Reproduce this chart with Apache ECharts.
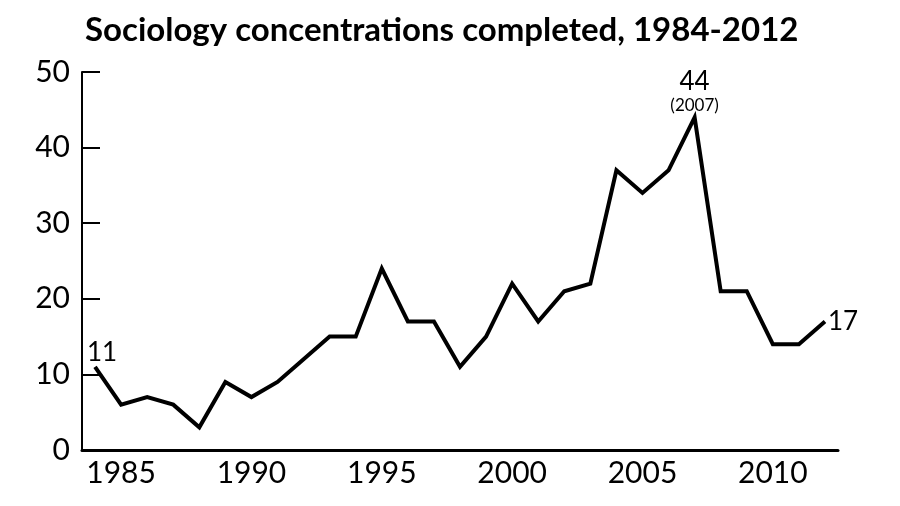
<!DOCTYPE html>
<html>
<head>
<meta charset="utf-8">
<script src="https://cdn.jsdelivr.net/npm/echarts@6/dist/echarts.min.js"></script>
<style>html,body{margin:0;padding:0;background:#fff;}#c{width:900px;height:506px;}</style>
</head>
<body>
<div id="c"></div>
<script>
var years = [1984,1985,1986,1987,1988,1989,1990,1991,1992,1993,1994,1995,1996,1997,1998,1999,2000,2001,2002,2003,2004,2005,2006,2007,2008,2009,2010,2011,2012];
var concentrations = [11,6,7,6,3,9,7,9,12,15,15,24,17,17,11,15,22,17,21,22,37,34,37,44,21,21,14,14,17];
var yTicks = [0,10,20,30,40,50];
var titleText = 'Sociology concentrations completed, 1984-2012';

var FONT = 'Lato';
var chart = echarts.init(document.getElementById('c'), null, {renderer: 'canvas'});

var seriesData = concentrations.map(function (v, i) {
  var item = {value: v};
  var y = years[i];
  if (y === 1984) {
    item.label = {show: true, position: 'top', distance: 1, offset: [7, 0], formatter: String(v), fontSize: 26, fontFamily: FONT, color: '#000'};
  } else if (y === 2007) {
    item.label = {show: true, position: 'top', distance: 2, formatter: '{a|' + v + '}\n{b|(' + y + ')}',
      rich: {a: {fontSize: 26, fontFamily: FONT, color: '#000', lineHeight: 29}, b: {fontSize: 17, fontFamily: FONT, color: '#000', lineHeight: 19}}};
  } else if (y === 2012) {
    item.label = {show: true, position: 'right', distance: 3, formatter: String(v), fontSize: 26, fontFamily: FONT, color: '#000'};
  }
  return item;
});

chart.setOption({
  animation: false,
  backgroundColor: '#fff',
  title: {
    text: titleText, left: 80, top: 9,
    textStyle: {fontFamily: FONT, fontWeight: 'bold', fontSize: 33, color: '#000'}
  },
  grid: {left: 82, right: 62, top: 72, bottom: 56, containLabel: false},
  xAxis: {
    type: 'category', data: years.map(String), boundaryGap: true,
    axisLine: {show: true, lineStyle: {color: '#000', width: 3}},
    axisTick: {show: false},
    axisLabel: {
      interval: function (idx, val) { return Number(val) % 5 === 0; },
      fontFamily: FONT, fontSize: 30, color: '#000', margin: 8
    },
    splitLine: {show: false}
  },
  yAxis: {
    type: 'value', min: yTicks[0], max: yTicks[yTicks.length - 1], interval: 10,
    axisLine: {show: true, lineStyle: {color: '#000', width: 2}},
    axisTick: {show: true, inside: true, length: 18, lineStyle: {color: '#000', width: 2}},
    axisLabel: {fontFamily: FONT, fontSize: 30, color: '#000', margin: 12},
    splitLine: {show: false}
  },
  series: [{
    type: 'line', data: seriesData,
    symbol: 'circle', symbolSize: 0, showSymbol: true,
    lineStyle: {color: '#000', width: 4, join: 'miter'},
    itemStyle: {color: '#000'},
    label: {show: false}
  }]
});
</script>
</body>
</html>
